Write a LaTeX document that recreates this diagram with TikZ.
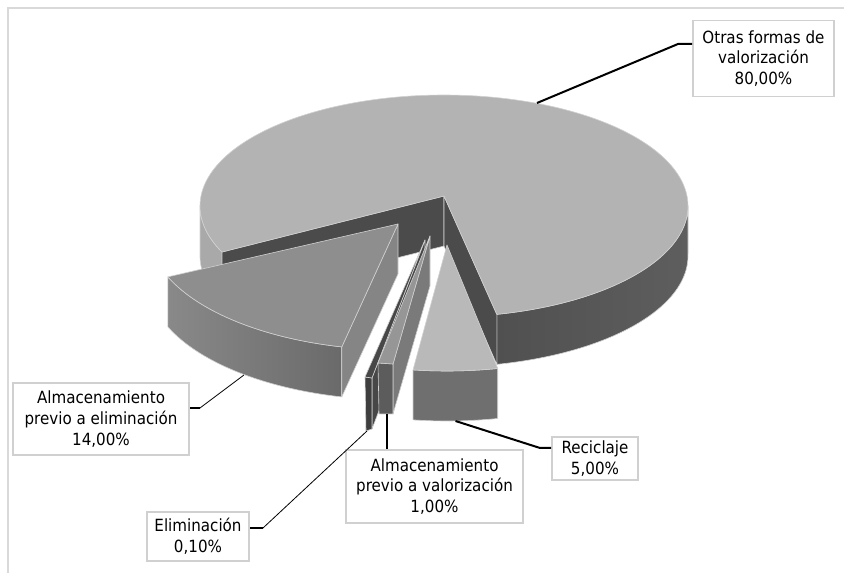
\documentclass[tikz,border=0pt]{standalone}
\usepackage{fontspec}
\setmainfont{DejaVu Sans}[FakeStretch=0.9]
\definecolor{framec}{HTML}{D9D9D9}
\definecolor{boxc}{HTML}{D0D0D0}
\definecolor{topBig}{HTML}{B3B3B3}
\definecolor{wallBigL}{HTML}{A9A9A9}
\definecolor{wallBigR1}{HTML}{505050}
\definecolor{wallBigR2}{HTML}{5E5E5E}
\definecolor{cutBig}{HTML}{4B4B4B}
\definecolor{topAe}{HTML}{8E8E8E}
\definecolor{wallAe1}{HTML}{898989}
\definecolor{wallAe2}{HTML}{6A6A6A}
\definecolor{cutAe}{HTML}{858585}
\definecolor{topRec}{HTML}{B9B9B9}
\definecolor{wallRec}{HTML}{6F6F6F}
\definecolor{topAv}{HTML}{969696}
\definecolor{wallAv}{HTML}{5C5C5C}
\definecolor{cutAv}{HTML}{7A7A7A}
\definecolor{cutEl}{HTML}{474747}
\definecolor{wallEl}{HTML}{3E3E3E}
\begin{document}
\begin{tikzpicture}[x=0.75pt,y=-0.75pt,
  face/.style={draw=white!82!black, line width=0.45pt, line join=round},
  lbl/.style={draw=boxc, line width=1.2pt, fill=white, inner sep=0pt, align=center,
    font=\fontsize{12.6}{15.6}\selectfont},
  lead/.style={line width=1.5pt, black},
  leadthin/.style={line width=0.6pt, black}]
\fill[white] (0,0) rectangle (844,573);
\useasboundingbox (0,0) rectangle (844,573);
\draw[framec, line width=1.2pt] (8,573) -- (8,8) -- (844,8);

% ---- big slice (80 %)
\path[face, left color=wallBigR1, right color=wallBigR2]
  (688,206) -- plot[domain=0:77.5,samples=60] ({444+244*cos(\x)},{206+111*sin(\x)})
  -- plot[domain=77.5:0,samples=60] ({444+244*cos(\x)},{256+111*sin(\x)}) -- cycle;
\path[face, fill=wallBigL]
  plot[domain=155.5:180,samples=30] ({444+244*cos(\x)},{206+111*sin(\x)})
  -- plot[domain=180:155.5,samples=30] ({444+244*cos(\x)},{256+111*sin(\x)}) -- cycle;
\path[face, fill=cutBig] (444,196) -- ({444+244*cos(155.5)},{206+111*sin(155.5)}) -- ++(0,50) -- (444,246) -- cycle;
\path[face, fill=cutBig] (444,196) -- ({444+244*cos(77.5)},{206+111*sin(77.5)}) -- ++(0,50) -- (444,246) -- cycle;
\path[face, fill=topBig] (444,196) -- plot[domain=155.5:437.5,samples=160] ({444+244*cos(\x)},{206+111*sin(\x)}) -- cycle;

% ---- 14 % slice
\path[face, left color=wallAe1, right color=wallAe2]
  plot[domain=103:157,samples=50] ({398+250*cos(\x)},{230+120*sin(\x)})
  -- plot[domain=157:103,samples=50] ({398+250*cos(\x)},{280+120*sin(\x)}) -- cycle;
\path[face, fill=cutAe] (398,224) -- ({398+250*cos(103)},{230+120*sin(103)}) -- ++(0,50) -- (398,274) -- cycle;
\path[face, fill=topAe] (398,224) -- plot[domain=103:157,samples=50] ({398+250*cos(\x)},{230+120*sin(\x)}) -- cycle;

% ---- 0,1 % slice
\path[face, fill=cutEl] (425,240) -- (372,378) -- (372,429) -- (425,290) -- cycle;
\path[face, fill=wallEl] (365,377) -- (372,378) -- (372,429) -- (366,431) -- cycle;
\path[face, fill=cutEl] (425,240) -- (365,377) -- (372,378) -- cycle;

% ---- 1 % slice
\path[face, fill=cutAv] (430,236) -- (393,364) -- (393,414) -- (430,286) -- cycle;
\path[face, fill=wallAv] (378,363) -- (393,364) -- (393,414) -- (379,414) -- cycle;
\path[face, fill=topAv] (430,236) -- (378,363) -- (393,364) -- cycle;

% ---- 5 % slice
\path[face, fill=wallRec]
  plot[domain=78:98,samples=20] ({447+244*cos(\x)},{256+115*sin(\x)})
  -- plot[domain=98:78,samples=20] ({447+244*cos(\x)},{306+115*sin(\x)}) -- cycle;
\path[face, fill=topRec] (447,245) -- plot[domain=78:98,samples=20] ({447+244*cos(\x)},{256+115*sin(\x)}) -- cycle;

% ---- labels
\node[lbl, minimum width=105.75pt, minimum height=57pt] (b1) at (763.5,58.5) {Otras formas de\\valorización\\80,00\%};
\node[lbl, minimum width=132pt, minimum height=54pt] (b2) at (101,419) {Almacenamiento\\previo a eliminación\\14,00\%};
\node[lbl, minimum width=76.5pt, minimum height=36.75pt] (b3) at (198,536.5) {Eliminación\\0,10\%};
\node[lbl, minimum width=132.75pt, minimum height=54.75pt] (b4) at (434.5,486.5) {Almacenamiento\\previo a valorización\\1,00\%};
\node[lbl, minimum width=64.5pt, minimum height=32.25pt] (b5) at (595,458.5) {Reciclaje\\5,00\%};

% ---- leaders
\coordinate (p1) at (537,103); \coordinate (k1) at (678,44);
\coordinate (p2) at (244,375); \coordinate (k2) at (200,408);
\coordinate (p3) at (367,431); \coordinate (k3) at (263,528);
\coordinate (p4) at (387,414);
\coordinate (p5) at (455.5,421); \coordinate (k5) at (540,448);
\draw[lead] (p1) -- (k1) -- (k1 -| b1.west);
\draw[leadthin] (p2) -- (k2);
\draw[lead] (k2) -- (k2 -| b2.east);
\draw[leadthin] (p3) -- (k3);
\draw[lead] (k3) -- (k3 -| b3.east);
\draw[lead] (p4) -- (p4 |- b4.north);
\draw[lead] (p5) -- (k5) -- (k5 -| b5.west);
\end{tikzpicture}
\end{document}
